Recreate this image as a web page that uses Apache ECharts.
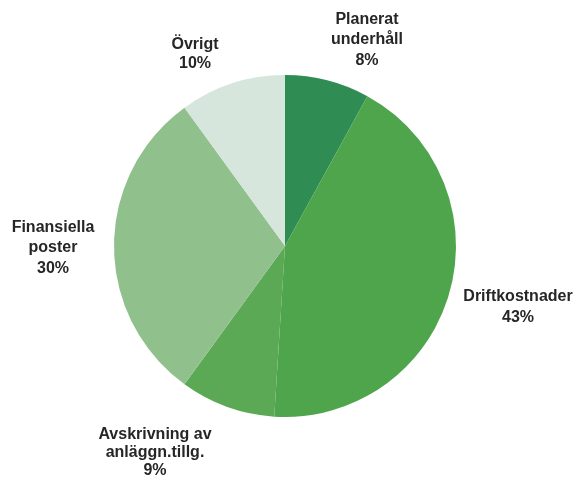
<!DOCTYPE html>
<html>
<head>
<meta charset="utf-8">
<script src="https://cdn.jsdelivr.net/npm/echarts@6/dist/echarts.min.js"></script>
<style>html,body{margin:0;padding:0;background:#fff;}#main{width:578px;height:477px;}</style>
</head>
<body>
<div id="main"></div>
<script>
const categories = ['Planerat\nunderhåll', 'Driftkostnader', 'Avskrivning av\nanläggn.tillg.', 'Finansiella\nposter', 'Övrigt'];
const values = [8, 43, 9, 30, 10];
const colors = ['#2f8c52', '#4ea54b', '#5ba855', '#90c08b', '#d6e6dc'];
const labelPos = [[367, 40], [518, 307], [155, 453], [53, 248], [195, 54]];
const labelLineHeights = [20.5, 21.5, 18, 20.5, 19];

const chart = echarts.init(document.getElementById('main'));
chart.setOption({
  animation: false,
  backgroundColor: '#fff',
  series: [{
    type: 'pie',
    center: [285, 246],
    radius: 171,
    startAngle: 90,
    clockwise: true,
    data: categories.map((c, i) => ({
      name: c, value: values[i],
      itemStyle: { color: colors[i] },
      label: { lineHeight: labelLineHeights[i] }
    })),
    itemStyle: { borderWidth: 0 },
    label: {
      show: true,
      position: 'outside',
      formatter: p => p.name + '\n' + p.value + '%',
      fontFamily: 'Liberation Sans, Arial, sans-serif',
      fontSize: 16,
      fontWeight: 'bold',
      color: '#262626',
      align: 'center',
      overflow: 'none',
      width: 200
    },
    labelLine: { show: false },
    labelLayout: function (p) {
      const pos = labelPos[p.dataIndex];
      return { x: pos[0], y: pos[1], align: 'center', verticalAlign: 'middle' };
    }
  }]
});
</script>
</body>
</html>
